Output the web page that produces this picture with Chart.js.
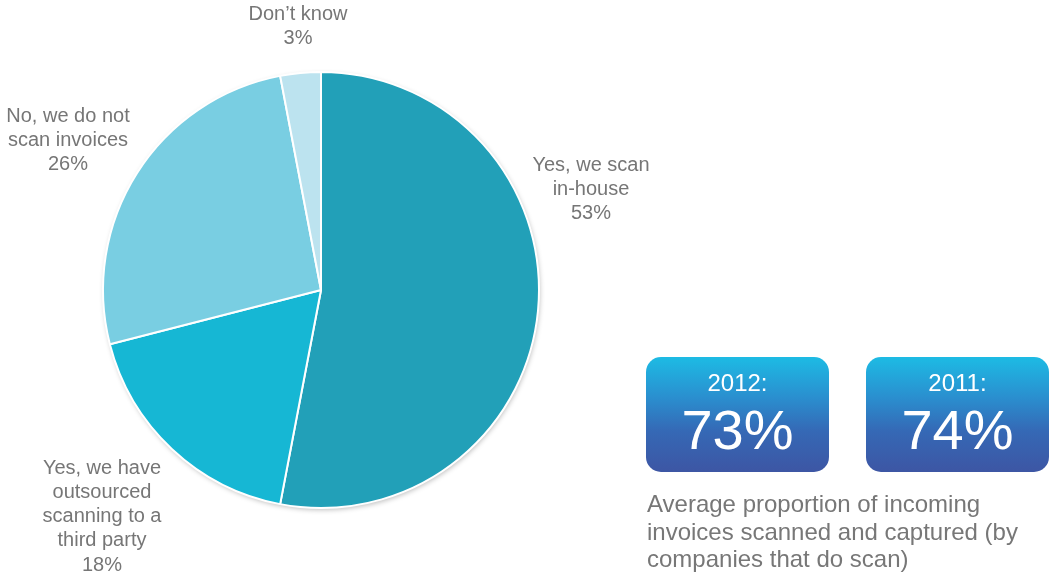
<!DOCTYPE html>
<html>
<head>
<meta charset="utf-8">
<script src="https://cdn.jsdelivr.net/npm/chart.js@4.4.1/dist/chart.umd.min.js"></script>
<style>
  html, body { margin: 0; padding: 0; background: #fff; }
  #wrap { position: relative; width: 1050px; height: 575px; font-family: "Liberation Sans", Arial, sans-serif; }
  #pie { position: absolute; left: 0; top: 0; }
  .box {
    position: absolute; top: 357px; width: 183px; height: 115px; border-radius: 15px;
    background: linear-gradient(to bottom, #1dbbe4 0%, #2a8fcf 35%, #3568b5 65%, #3d56a4 100%);
    color: #fff; text-align: center;
  }
  .box .yr { position: absolute; left: 0; right: 0; top: 12px; font-size: 24px; line-height: 28px; }
  .box .pc { position: absolute; left: 0; right: 0; top: 41px; font-size: 56px; line-height: 64px; }
  #note { position: absolute; left: 647px; top: 490px; width: 400px; font-size: 24px; line-height: 27.5px; color: #777; }
</style>
</head>
<body>
<div id="wrap">
  <canvas id="pie" width="1050" height="575"></canvas>
  <div id="boxes"></div>
  <div id="note">Average proportion of incoming invoices scanned and captured (by companies that do scan)</div>
</div>
<script>
// Survey answers, clockwise from 12 o'clock
var categories = [
  ["Yes, we scan", "in-house"],
  ["Yes, we have", "outsourced", "scanning to a", "third party"],
  ["No, we do not", "scan invoices"],
  ["Don\u2019t know"]
];
var shares = [53, 18, 26, 3];
var sliceColors = ["#22a0b8", "#16b7d4", "#79cee2", "#bce3ef"];

// Average proportion scanned, by year
var years = ["2012", "2011"];
var proportions = [73, 74];

// Where each slice label sits (centre x, first line y)
var labelAnchors = [
  { x: 591, y: 165 },
  { x: 102, y: 468 },
  { x: 68, y: 116 },
  { x: 298, y: 14 }
];

var pieShadow = {
  id: "pieShadow",
  beforeDatasetsDraw: function (chart) {
    var ctx = chart.ctx;
    ctx.save();
    ctx.shadowColor = "rgba(0,0,0,0.25)";
    ctx.shadowBlur = 5;
    ctx.shadowOffsetX = 1;
    ctx.shadowOffsetY = 2;
    var arc = chart.getDatasetMeta(0).data[0];
    ctx.beginPath();
    ctx.arc(arc.x, arc.y, arc.outerRadius, 0, Math.PI * 2);
    ctx.fillStyle = "#fff";
    ctx.fill();
    ctx.restore();
  }
};

var sliceLabels = {
  id: "sliceLabels",
  afterDraw: function (chart) {
    var ctx = chart.ctx;
    ctx.save();
    ctx.font = '20px "Liberation Sans", Arial, sans-serif';
    ctx.fillStyle = "#767676";
    ctx.textAlign = "center";
    ctx.textBaseline = "middle";
    categories.forEach(function (lines, i) {
      var a = labelAnchors[i];
      var all = lines.concat([shares[i] + "%"]);
      all.forEach(function (t, j) {
        ctx.fillText(t, a.x, a.y + j * 24.3);
      });
    });
    ctx.restore();
  }
};

var ctx = document.getElementById("pie").getContext("2d");
var pieChart = new Chart(ctx, {
  type: "pie",
  data: {
    labels: categories.map(function (l) { return l.join(" "); }),
    datasets: [{
      data: shares,
      backgroundColor: sliceColors,
      borderColor: "#ffffff",
      borderWidth: 2
    }]
  },
  options: {
    responsive: false,
    animation: false,
    layout: { padding: { left: 102, top: 71, right: 510, bottom: 66 } },
    plugins: {
      legend: { display: false },
      tooltip: { enabled: false }
    }
  },
  plugins: [pieShadow, sliceLabels]
});

// Year boxes
var boxLefts = [646, 866];
var boxes = document.getElementById("boxes");
years.forEach(function (y, i) {
  var b = document.createElement("div");
  b.className = "box";
  b.style.left = boxLefts[i] + "px";
  b.innerHTML = '<div class="yr">' + y + ':</div><div class="pc">' + proportions[i] + '%</div>';
  boxes.appendChild(b);
});
</script>
</body>
</html>
